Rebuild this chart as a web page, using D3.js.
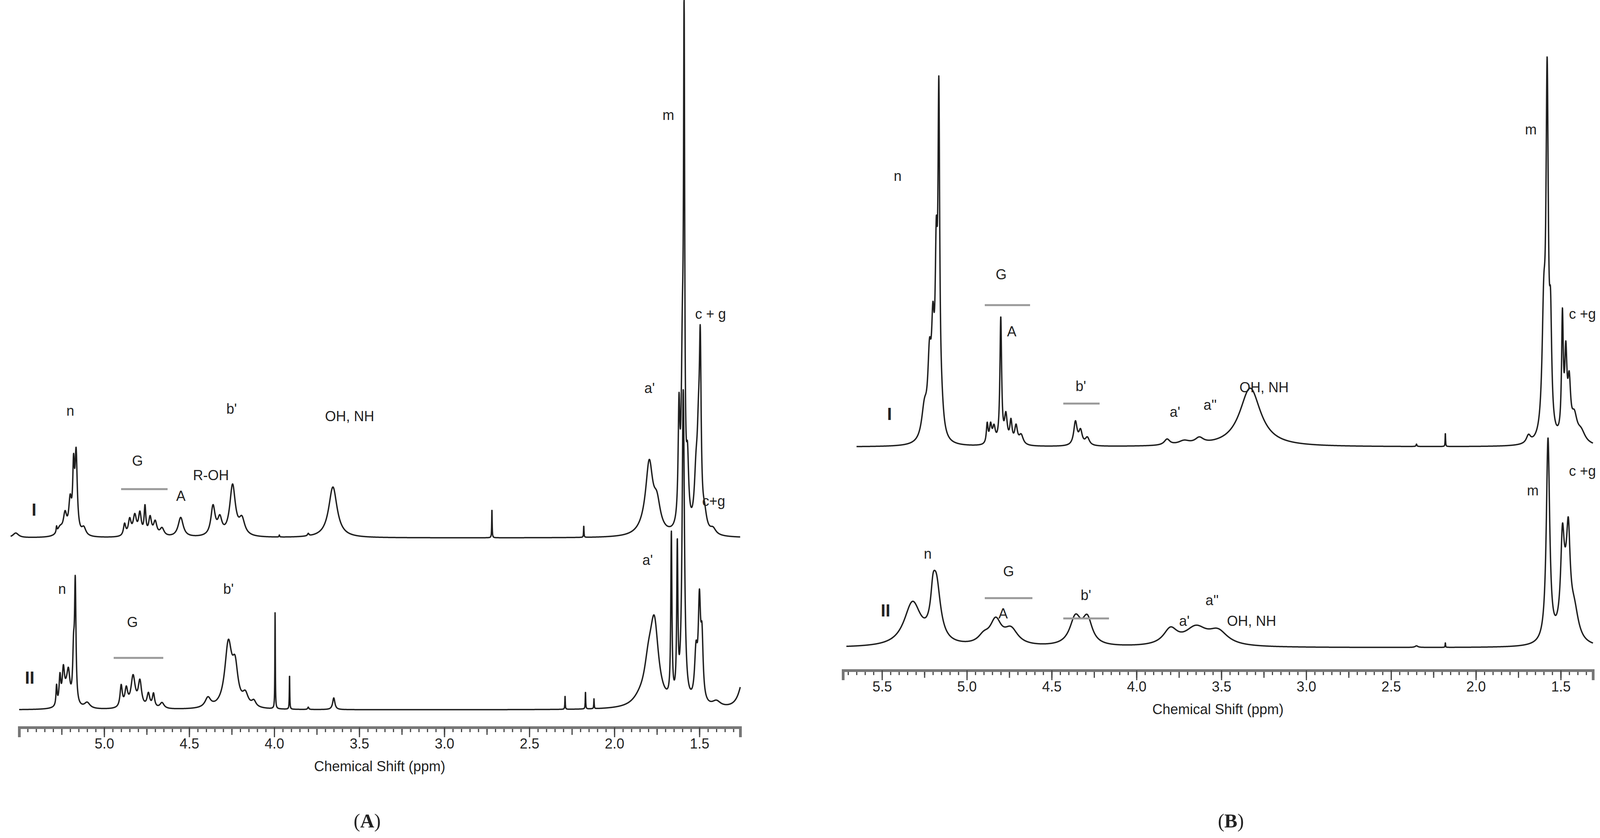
<!DOCTYPE html>
<html><head><meta charset="utf-8">
<script src="https://cdn.jsdelivr.net/npm/d3@7"></script>
<style>
body{margin:0;background:#fff}
svg text{font-family:'Liberation Sans',Arial,sans-serif;fill:#222}
</style></head>
<body><svg id="c" width="4131" height="2145"></svg>
<script>
// peak tables: [ppm, intensity, half-width]
const peaksAI = [[5.165,200,0.008],[5.18,150,0.006],[5.2,80,0.01],[5.23,50,0.012],[5.26,20,0.02],[5.28,15,0.003],[5.12,20,0.015],
  [4.88,30,0.008],[4.85,40,0.01],[4.82,50,0.012],[4.79,55,0.01],[4.76,70,0.006],[4.73,45,0.01],[4.7,35,0.012],[4.66,20,0.015],
  [4.55,50,0.018],[4.36,75,0.015],[4.32,40,0.015],[4.245,130,0.02],[4.19,40,0.02],[3.655,130,0.03],[3.97,5,0.002],[3.8,6,0.005],
  [2.72,75,0.0015],[2.18,30,0.0015],[1.795,170,0.025],[1.75,70,0.025],[1.82,15,0.05],
  [1.59,1200,0.004],[1.6,400,0.008],[1.62,280,0.006],[1.57,150,0.008],
  [1.495,400,0.006],[1.505,200,0.01],[1.52,120,0.012],[1.47,40,0.015],[1.42,15,0.02],[5.52,12,0.02]];
const peaksAII = [[5.17,300,0.005],[5.18,120,0.006],[5.21,60,0.01],[5.24,80,0.008],[5.26,70,0.006],[5.28,50,0.004],[5.22,40,0.02],[5.1,15,0.02],
  [4.9,55,0.008],[4.87,45,0.01],[4.83,80,0.015],[4.79,65,0.012],[4.74,35,0.01],[4.71,35,0.008],[4.66,15,0.015],
  [4.39,25,0.02],[4.27,160,0.025],[4.23,90,0.02],[4.17,30,0.02],[4.12,15,0.015],
  [3.995,250,0.0015],[3.91,90,0.0015],[3.65,30,0.008],[3.8,6,0.004],[2.29,35,0.0015],[2.17,45,0.0015],[2.12,25,0.0015],
  [1.765,200,0.03],[1.8,80,0.03],[1.85,15,0.05],[1.665,420,0.004],[1.63,380,0.004],[1.595,800,0.008],
  [1.50,240,0.008],[1.52,120,0.01],[1.485,150,0.008],[1.40,15,0.03],[1.24,80,0.03]];
const peaksBI = [[5.165,800,0.006],[5.18,400,0.008],[5.2,230,0.01],[5.22,180,0.012],[5.25,80,0.02],[5.15,60,0.015],
  [4.88,50,0.006],[4.86,45,0.008],[4.84,40,0.01],[4.8,320,0.006],[4.77,70,0.01],[4.74,55,0.008],[4.71,45,0.01],[4.68,25,0.015],
  [4.36,60,0.012],[4.33,35,0.012],[4.29,20,0.015],[3.82,15,0.02],[3.72,10,0.04],[3.63,15,0.03],[3.33,150,0.075],
  [2.35,6,0.003],[2.18,35,0.0015],[1.69,20,0.015],[1.58,880,0.008],[1.6,300,0.012],[1.56,250,0.008],
  [1.49,300,0.006],[1.47,200,0.008],[1.45,130,0.01],[1.42,60,0.02],[1.38,30,0.03]];
const peaksBII = [[5.32,110,0.06],[5.18,150,0.03],[5.2,60,0.015],[4.83,60,0.04],[4.74,40,0.05],[4.9,20,0.04],
  [4.36,70,0.04],[4.29,65,0.035],[3.8,40,0.05],[3.65,45,0.08],[3.52,35,0.07],[2.35,4,0.01],[2.18,12,0.0015],
  [1.575,520,0.012],[1.49,200,0.012],[1.455,190,0.012],[1.47,110,0.03],[1.42,70,0.03]];

const ticksMajorA = [5.0,4.5,4.0,3.5,3.0,2.5,2.0,1.5];
const ticksMajorB = [5.5,5.0,4.5,4.0,3.5,3.0,2.5,2.0,1.5];

// labels: [text, x, y]
const labelsA = [["n",180,1064],["G",352,1192],["A",463,1282],["R-OH",540,1229],["b'",593,1059],["OH, NH",895,1078],
  ["a'",1663,1006],["m",1711,307],["c + g",1819,816],["n",159,1520],["G",339,1605],["b'",585,1520],["a'",1658,1446],["c+g",1827,1295]];
const labelsB = [["n",2298,463],["G",2563,715],["A",2590,861],["b'",2767,1001],["a'",3008,1067],["a''",3098,1049],["OH, NH",3236,1004],
  ["m",3919,344],["c +g",4051,816],["n",2375,1430],["G",2582,1475],["A",2568,1583],["b'",2780,1536],["a'",3032,1602],["a''",3103,1549],
  ["OH, NH",3204,1602],["m",3924,1268],["c +g",4051,1218]];
// grey bars: [x1, x2, y]
const barsA = [[310,429,1252],[291,418,1684]];
const barsB = [[2521,2637,781],[2722,2815,1033],[2521,2643,1531],[2722,2839,1583]];

const svg = d3.select('#c');

function spectrum(peaks, lo, hi) {
  const pts = [];
  for (let p = hi; p >= lo - 1e-9; p -= 0.0008) {
    let v = 0;
    peaks.forEach(([c, h, w]) => { const t = (p - c) / w; v += h / (1 + t * t); });
    pts.push([p, v]);
  }
  return pts;
}

function panel(o) {
  const x = d3.scaleLinear().domain([o.left, o.right]).range([o.x0, o.x1]);
  o.traces.forEach(tr => {
    const y = d3.scaleLinear().domain([0, 1400]).range([tr.base, tr.base - 1400]);
    svg.append('path')
      .datum(spectrum(tr.peaks, tr.to, tr.from))
      .attr('fill', 'none').attr('stroke', '#1e1e1e').attr('stroke-width', 3.5)
      .attr('stroke-linejoin', 'round')
      .attr('d', d3.line().x(d => x(d[0])).y(d => Math.max(0, y(d[1]))));
    svg.append('text').attr('x', tr.lx).attr('y', tr.ly).attr('text-anchor', 'middle')
      .style('font-size', '44px').style('font-weight', 'bold').text(tr.name);
  });
  const minor = d3.range(Math.ceil(o.right * 20), Math.floor(o.left * 20) + 1).map(d => d / 20);
  const g = svg.append('g').attr('transform', `translate(0,${o.axisY})`);
  g.append('g').call(d3.axisBottom(x).tickValues(minor).tickSize(12).tickFormat(''));
  g.append('g').call(d3.axisBottom(x).tickValues(minor.filter(d => Math.abs(d * 4 - Math.round(d * 4)) < 1e-6)).tickSize(19).tickFormat(''));
  const maj = g.append('g').call(d3.axisBottom(x).tickValues(o.major).tickSize(25).tickPadding(3).tickFormat(d3.format('.1f')));
  g.selectAll('.tick line').attr('stroke', '#444').attr('stroke-width', 3);
  g.selectAll('.domain').attr('stroke', '#777').attr('stroke-width', 7);
  maj.selectAll('text').style('font-size', '36px').style('font-family', "'Liberation Sans',Arial").attr('fill', '#333');
  svg.append('text').attr('x', (o.x0 + o.x1) / 2 + o.lblDx).attr('y', o.axisY + 112).attr('text-anchor', 'middle')
    .style('font-size', '36px').attr('fill', '#333').text('Chemical Shift (ppm)');
  o.labels.forEach(([t, lx, ly]) => svg.append('text').attr('x', lx).attr('y', ly).attr('text-anchor', 'middle')
    .style('font-size', '36px').text(t));
  o.bars.forEach(([a, b, yy]) => svg.append('line').attr('x1', a).attr('x2', b).attr('y1', yy).attr('y2', yy)
    .attr('stroke', '#999').attr('stroke-width', 5));
  const cap = svg.append('text').attr('x', o.capX).attr('y', 2118).attr('text-anchor', 'middle')
    .style('font-family', "'Liberation Serif',serif").style('font-size', '50px');
  cap.append('tspan').text('(');
  cap.append('tspan').style('font-weight', 'bold').text(o.cap);
  cap.append('tspan').text(')');
}

panel({left: 5.5, right: 1.26, x0: 49, x1: 1895, axisY: 1862, major: ticksMajorA, lblDx: 0,
  labels: labelsA, bars: barsA, cap: 'A', capX: 940,
  traces: [{peaks: peaksAI, base: 1377, from: 5.55, to: 1.26, name: 'I', lx: 87, ly: 1320},
           {peaks: peaksAII, base: 1817, from: 5.5, to: 1.26, name: 'II', lx: 76, ly: 1750}]});
panel({left: 5.73, right: 1.31, x0: 2158, x1: 4078, axisY: 1716, major: ticksMajorB, lblDx: 0,
  labels: labelsB, bars: barsB, cap: 'B', capX: 3151,
  traces: [{peaks: peaksBI, base: 1144, from: 5.65, to: 1.31, name: 'I', lx: 2277, ly: 1075},
           {peaks: peaksBII, base: 1658, from: 5.71, to: 1.31, name: 'II', lx: 2267, ly: 1578}]});
</script></body></html>
